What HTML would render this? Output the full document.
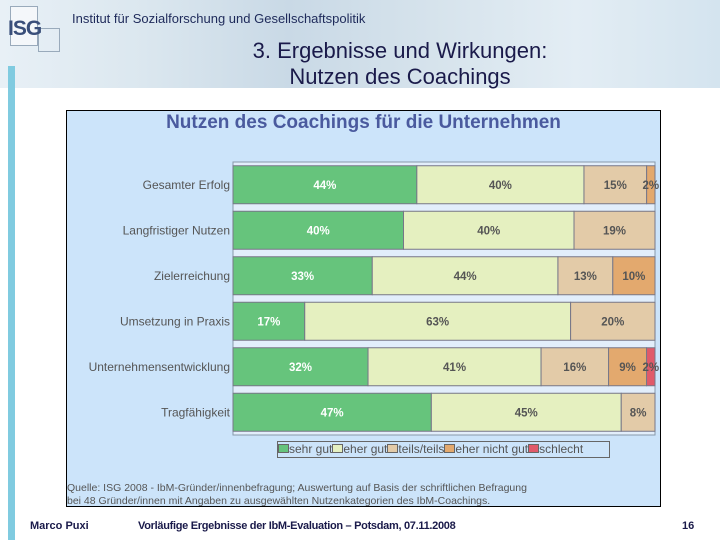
<!DOCTYPE html>
<html><head><meta charset="utf-8">
<style>
body{margin:0;width:720px;height:540px;position:relative;background:#fff;font-family:"Liberation Sans",sans-serif;overflow:hidden}
.abs{position:absolute}
</style></head><body>
<div class="abs" style="left:0;top:0;width:720px;height:88px;background:linear-gradient(90deg,#e8f0f6 0%,#dbe7ef 20%,#c9d9e6 40%,#d6e3ec 60%,#e3edf4 80%,#d4e4ef 100%)"></div>
<div class="abs" style="left:10px;top:6px;width:26px;height:38px;border:1px solid #9ab;background:#f4f7fa"></div>
<div class="abs" style="left:38px;top:28px;width:20px;height:22px;border:1px solid #9ab"></div>
<div class="abs" style="left:8px;top:17px;font-weight:bold;font-size:21px;color:#3a4f7a;letter-spacing:-1px">ISG</div>
<div class="abs" style="left:72px;top:11px;font-size:13px;color:#1e2a5a">Institut für Sozialforschung und Gesellschaftspolitik</div>
<div class="abs" style="left:160px;top:38px;width:480px;text-align:center;font-size:22px;line-height:26px;color:#1a1a4a">3. Ergebnisse und Wirkungen:<br>Nutzen des Coachings</div>
<div class="abs" style="left:8px;top:66px;width:7px;height:474px;background:#80cbe0"></div>

<div class="abs" style="left:66px;top:110px;width:593px;height:395px;border:1px solid #000;background:#cce4fa"></div>
<div class="abs" style="left:66px;top:112px;width:595px;text-align:center;font-size:19px;font-weight:bold;color:#4a5a9e">Nutzen des Coachings für die Unternehmen</div>
<svg class="abs" style="left:0;top:0" width="720" height="540" id="chart"></svg>
<div class="abs" style="left:277px;top:441px;width:331px;height:15px;border:1px solid #666;font-size:12px;color:#555;line-height:15px;white-space:nowrap">
<span><span style="display:inline-block;width:9px;height:7px;background:#66c47c;border:1px solid #666"></span>sehr gut</span><span><span style="display:inline-block;width:9px;height:7px;background:#e5f0c0;border:1px solid #666"></span>eher gut</span><span><span style="display:inline-block;width:9px;height:7px;background:#e3cba8;border:1px solid #666"></span>teils/teils</span><span><span style="display:inline-block;width:9px;height:7px;background:#e3a96e;border:1px solid #666"></span>eher nicht gut</span><span><span style="display:inline-block;width:9px;height:7px;background:#e05a6a;border:1px solid #666"></span>schlecht</span></div>
<div class="abs" style="left:67px;top:482px;font-size:10.5px;line-height:13px;color:#555">Quelle: ISG 2008 - IbM-Gründer/innenbefragung; Auswertung auf Basis der schriftlichen Befragung<br>bei 48 Gründer/innen mit Angaben zu ausgewählten Nutzenkategorien des IbM-Coachings.</div>
<div class="abs" style="left:30px;top:520px;font-size:11px;font-weight:bold;color:#1a1a4a">Marco Puxi</div>
<div class="abs" style="left:138px;top:520px;font-size:11px;font-weight:bold;color:#1a1a4a;letter-spacing:-0.3px">Vorläufige Ergebnisse der IbM-Evaluation – Potsdam, 07.11.2008</div>
<div class="abs" style="left:682px;top:520px;font-size:11px;font-weight:bold;color:#1a1a4a">16</div>
<script>
const categories=["Gesamter Erfolg","Langfristiger Nutzen","Zielerreichung","Umsetzung in Praxis","Unternehmensentwicklung","Tragfähigkeit"];
const sehrGut=[44,40,33,17,32,47];
const eherGut=[40,40,44,63,41,45];
const teils=[15,19,13,20,16,8];
const eherNichtGut=[2,0,10,0,9,0];
const schlecht=[0,0,0,0,2,0];
const series=[sehrGut,eherGut,teils,eherNichtGut,schlecht];
const seriesNames=["sehr-gut","eher-gut","teils","eher-nicht-gut","schlecht"];
const colors=["#66c47c","#e5f0c0","#e3cba8","#e3a96e","#e05a6a"];
const labelColors=["#fff","#555","#555","#555","#555"];
const svg=document.getElementById('chart');
const NS="http://www.w3.org/2000/svg";
const x0=233,x1=655,yTop=162,yBot=435;
const band=(yBot-yTop)/categories.length;
const bh=38;
function xs(v,total){return v/total*(x1-x0);}
function mk(t,a){const e=document.createElementNS(NS,t);for(const k in a)e.setAttribute(k,a[k]);svg.appendChild(e);return e;}
const bg=mk('rect',{x:x0,y:yTop,width:x1-x0,height:yBot-yTop,fill:'#e2eefb',stroke:'#8899aa'});


categories.forEach((c,i)=>{
  const cy=yTop+band*(i+0.5);
  const total=series.reduce((s,a)=>s+a[i],0);
  let x=x0;
  series.forEach((arr,j)=>{
    const v=arr[i];if(!v)return;
    const w=xs(v,total);
    const r=mk('rect',{x:x,y:cy-bh/2,width:w,height:bh,fill:colors[j],stroke:'#778'});
    
    
    const t=mk('text',{x:x+w/2,y:cy+4,'text-anchor':'middle','font-size':11.5,'font-weight':'bold',fill:labelColors[j],'font-family':'Liberation Sans'});
    t.textContent=v+'%';
    
    
    x+=w;
  });
  const l=mk('text',{x:x0-3,y:cy+4,'text-anchor':'end','font-size':12,fill:'#555','font-family':'Liberation Sans'});
  l.textContent=c;
  
  
});
</script>
</body></html>
